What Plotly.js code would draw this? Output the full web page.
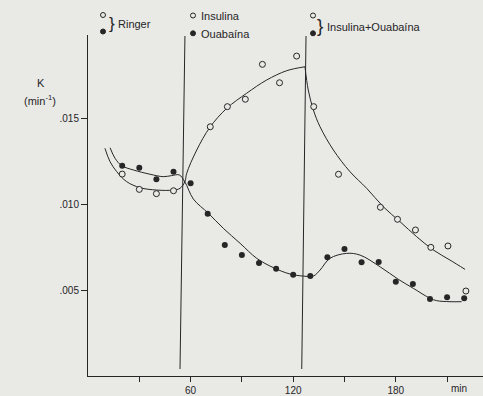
<!DOCTYPE html>
<html>
<head>
<meta charset="utf-8">
<script src="https://cdn.plot.ly/plotly-3.0.1.min.js"></script>
<style>html,body{margin:0;padding:0;background:#e9e9e6;}#chart{width:483px;height:396px;}</style>
</head>
<body>
<div id="chart"></div>
<script>
// ---- data ----
// filled circles: Ringer (20-50 min) then Ouabaína (60-220 min)
const timeFilled = [20,30,40,50,60,70,80,90,100,110,120,130,140,150,160,170,180,190,200,210,220];
const kFilled = [0.01223,0.01211,0.01144,0.01188,0.01120,0.00944,0.00762,0.00704,0.00657,0.00624,0.00589,0.00581,0.00690,0.00738,0.00661,0.00663,0.00548,0.00535,0.00448,0.00458,0.00452];
// open circles: Ringer
const timeOpenRinger = [20,30,40,50];
const kOpenRinger = [0.01174,0.01085,0.01060,0.01077];
// open circles: Insulina, then Insulina+Ouabaína
const timeOpenIns = [71.5,81.5,92,102,112,122,132,146.5,171,181,191.5,200.5,210.5,221];
const kOpenIns = [0.01449,0.01566,0.01609,0.01812,0.01705,0.01860,0.01566,0.01173,0.00981,0.00911,0.00849,0.00748,0.00756,0.00494];

// hand-drawn fitted curves
const curveFilledT = [12.9,15.8,19.7,26.5,36.3,44.0,48.9,53.4,56.7,61.6,70.4,79.1,88.9,98.7,108.4,118.1,125.9,131.8,135.7,141.5,151.3,159.1,170.8,181.5,190.2,200,203.9,211.7,218.5];
const curveFilledK = [0.01327,0.01266,0.01223,0.01198,0.01173,0.01159,0.01165,0.01169,0.01128,0.01029,0.00946,0.00859,0.00772,0.00684,0.00630,0.00593,0.00581,0.00581,0.00616,0.00684,0.00713,0.00703,0.00635,0.00562,0.00510,0.00452,0.00438,0.00432,0.00432];
const curveOpenRiseT = [9.9,12.9,16.8,22.6,30.4,40.2,49.9,53.8,56.7,57.7,63.6,71.3,81.1,92.8,104.5,116.2,126.9];
const curveOpenRiseK = [0.01324,0.01246,0.01188,0.01130,0.01095,0.01081,0.01081,0.01091,0.01130,0.01178,0.01314,0.01446,0.01556,0.01644,0.01721,0.01775,0.01798];
const curveOpenFallT = [126.9,128.8,131.8,135.7,143.5,153.2,163,172.7,182.5,192.2,201.9,211.7,220.5];
const curveOpenFallK = [0.01798,0.01663,0.01547,0.01449,0.01314,0.01188,0.01091,0.00984,0.00897,0.00810,0.00733,0.00674,0.00620];

// treatment change lines (min): [at top, at bottom]
const changeTimes = [[56.7,53.8],[127.5,125.0]];

const xTicks = [60,120,180];
const xTickText = ['60','120','180'];
const xMinorTicks = [30,90,150,210];
const yTicks = [0.005,0.010,0.015];
const yTickText = ['.005','.010','.015'];

// ---- layout helpers (pixel geometry) ----
const L=88, T=35, W=395, H=341;
const XMAX=231, YMAX=0.019826;
const py2y = py => (T+H-py)/H*YMAX;
const pX = px => (px-L)/W;
const pY = py => (T+H-py)/H;

const ink = '#262626';
const BG = '#e9e9e6';
const FONT = 'Liberation Sans, Arial, sans-serif';

const lineStyle = {color: ink, width: 1, shape: 'spline', smoothing: 1};
const traces = [
  {x: curveFilledT, y: curveFilledK, mode: 'lines', line: lineStyle},
  {x: curveOpenRiseT, y: curveOpenRiseK, mode: 'lines', line: lineStyle},
  {x: curveOpenFallT, y: curveOpenFallK, mode: 'lines', line: lineStyle},
  {x: timeOpenRinger, y: kOpenRinger, mode: 'markers',
   marker: {symbol: 'circle', size: 6, color: BG, line: {color: ink, width: 1}}},
  {x: timeOpenIns, y: kOpenIns, mode: 'markers',
   marker: {symbol: 'circle', size: 6, color: BG, line: {color: ink, width: 1}}},
  {x: timeFilled, y: kFilled, mode: 'markers',
   marker: {symbol: 'circle', size: 6, color: ink, line: {color: ink, width: 0}}}
];

const shapes = changeTimes.map(([top, bottom]) => ({
  type: 'line', xref: 'x', yref: 'y', x0: top, y0: py2y(36), x1: bottom, y1: py2y(369),
  line: {color: ink, width: 1}
}));

// legend keys (open above, filled below)
const keyCircle = (px, py, filled) => ({
  type: 'circle', xref: 'paper', yref: 'paper', xsizemode: 'pixel', ysizemode: 'pixel',
  xanchor: pX(px), yanchor: pY(py), x0: -2.5, x1: 2.5, y0: -2.5, y1: 2.5,
  fillcolor: filled ? ink : BG, line: {color: ink, width: 1}
});
[[103,15],[193,15.5],[313,15.5]].forEach(([a,b]) => shapes.push(keyCircle(a,b,false)));
[[103,31.5],[193,33.3],[313,33.3]].forEach(([a,b]) => shapes.push(keyCircle(a,b,true)));

const ann = (text, px, py, size, xanchor) => ({
  text, xref: 'paper', yref: 'paper', x: pX(px), y: pY(py), showarrow: false,
  xanchor: xanchor || 'left', yanchor: 'middle', font: {family: FONT, size: size, color: ink}
});

const annotations = [
  ann('}', 112, 23.5, 17, 'center'),
  ann('Ringer', 116, 24, 11),
  ann('Insulina', 199, 16, 11),
  ann('Ouabaína', 199, 34, 11),
  ann('}', 320, 25, 19, 'center'),
  ann('Insulina+Ouabaína', 325, 27, 11),
  ann('K', 41, 83, 11, 'center'),
  ann('(min<sup>-1</sup>)', 40, 100, 11, 'center'),
  ann('min', 459, 388, 10, 'center')
];

const layout = {
  width: 483, height: 396,
  margin: {l: L, r: 483-L-W, t: T, b: 396-T-H, pad: 0},
  paper_bgcolor: BG, plot_bgcolor: BG,
  showlegend: false,
  font: {family: FONT, color: ink},
  xaxis: {range: [0, XMAX], tickvals: xTicks, ticktext: xTickText, ticks: 'outside', ticklen: 5,
          tickcolor: ink, showline: true, linecolor: ink, linewidth: 1, showgrid: false, zeroline: false,
          minor: {tickvals: xMinorTicks, ticks: 'outside', ticklen: 5, tickcolor: ink, showgrid: false},
          tickfont: {size: 10, family: FONT, color: ink}, fixedrange: true},
  yaxis: {range: [0, YMAX], tickvals: yTicks, ticktext: yTickText, ticks: 'outside', ticklen: 6,
          tickcolor: ink, showline: true, linecolor: ink, linewidth: 1, showgrid: false, zeroline: false,
          tickfont: {size: 10, family: FONT, color: ink}, fixedrange: true},
  shapes, annotations
};

Plotly.newPlot('chart', traces, layout, {staticPlot: true, displayModeBar: false});
</script>
</body>
</html>
